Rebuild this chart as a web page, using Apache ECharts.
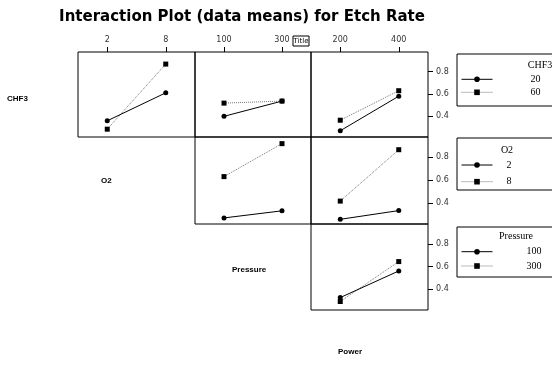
<!DOCTYPE html>
<html>
<head>
<meta charset="utf-8">
<script src="https://cdn.jsdelivr.net/npm/echarts@6/dist/echarts.min.js"></script>
<style>
html,body{margin:0;padding:0;background:#fff;}
#c{width:552px;height:365px;}
</style>
</head>
<body>
<div id="c"></div>
<script>
// ---- data ----
const titleText = 'Interaction Plot (data means) for Etch Rate';
const rowFactors = ['CHF3', 'O2', 'Pressure'];
const colFactors = ['O2', 'Pressure', 'Power'];
const chf3Levels = ['20', '60'];
const o2Levels = ['2', '8'];
const pressureLevels = ['100', '300'];
const o2X = [2, 8];
const pressureX = [100, 300];
const powerX = [200, 400];
const yTicks = [0.4, 0.6, 0.8];

// means
const chf3_o2_20 = [0.36, 0.61];
const chf3_o2_60 = [0.285, 0.867];
const chf3_pressure_20 = [0.40, 0.536];
const chf3_pressure_60 = [0.518, 0.536];
const chf3_power_20 = [0.271, 0.58];
const chf3_power_60 = [0.365, 0.629];
const o2_pressure_2 = [0.268, 0.33];
const o2_pressure_8 = [0.629, 0.917];
const o2_power_2 = [0.256, 0.332];
const o2_power_8 = [0.415, 0.864];
const pressure_power_100 = [0.325, 0.56];
const pressure_power_300 = [0.29, 0.643];

// ---- layout ----
const colLeft = [78, 195, 311];
const colWidth = [117, 116, 117];
const rowTop = [52, 137, 224];
const rowHeight = [85, 87, 86];
const colX = [o2X, pressureX, powerX];
const colRange = [[-1, 11], [0, 400], [100, 500]];
const yRange = [0.215, 0.975];

// panels: [row, col, levels, valuesA, valuesB]
const panels = [
  [0, 0, chf3Levels, chf3_o2_20, chf3_o2_60],
  [0, 1, chf3Levels, chf3_pressure_20, chf3_pressure_60],
  [0, 2, chf3Levels, chf3_power_20, chf3_power_60],
  [1, 1, o2Levels, o2_pressure_2, o2_pressure_8],
  [1, 2, o2Levels, o2_power_2, o2_power_8],
  [2, 2, pressureLevels, pressure_power_100, pressure_power_300]
];

const tickFont = {fontFamily: 'DejaVu Sans', fontSize: 8, color: '#333'};
const grids = [], xAxes = [], yAxes = [], series = [];
panels.forEach((p, i) => {
  const [r, c, lv, a, b] = p;
  grids.push({left: colLeft[c], top: rowTop[r], width: colWidth[c], height: rowHeight[r],
    show: true, borderColor: '#000', borderWidth: 1, backgroundColor: 'transparent'});
  const topRow = (r === 0);
  xAxes.push({type: 'value', gridIndex: i, position: 'top', min: colRange[c][0], max: colRange[c][1],
    axisLine: {show: false}, splitLine: {show: false},
    axisTick: {show: topRow, length: 5, inside: false, lineStyle: {color: '#000'}, customValues: colX[c]},
    axisLabel: {show: topRow, margin: 8, customValues: colX[c], ...tickFont}});
  const rightCol = (c === 2);
  yAxes.push({type: 'value', gridIndex: i, position: 'right', min: yRange[0], max: yRange[1],
    axisLine: {show: false}, splitLine: {show: false},
    axisTick: {show: rightCol, length: 5, lineStyle: {color: '#000'}, customValues: yTicks},
    axisLabel: {show: rightCol, margin: 8, customValues: yTicks, formatter: v => v.toFixed(1), ...tickFont}});
  series.push({type: 'line', name: lv[0], xAxisIndex: i, yAxisIndex: i,
    data: colX[c].map((x, k) => [x, a[k]]), symbol: 'circle', symbolSize: 5,
    itemStyle: {color: '#000'}, lineStyle: {color: '#000', width: 1, type: 'solid'}, animation: false, z: 3});
  series.push({type: 'line', name: lv[1], xAxisIndex: i, yAxisIndex: i,
    data: colX[c].map((x, k) => [x, b[k]]), symbol: 'rect', symbolSize: 5,
    itemStyle: {color: '#000'}, lineStyle: {color: '#777', width: 1, type: 'dotted'}, animation: false, z: 2});
});

const legendFont = {fontFamily: 'Liberation Serif', fontSize: 10, color: '#000', lineHeight: 10};
function mkLegend(names, top, left, labelW, gap) {
  return {orient: 'vertical', left: left, top: top, data: names, itemWidth: 31, itemHeight: 7,
    itemGap: gap, selectedMode: false, padding: 0,
    lineStyle: {width: 1},
    formatter: n => '{a|' + n + '}',
    textStyle: {lineHeight: 10, rich: {a: {width: labelW, align: 'right', ...legendFont}}}};
}
const legends = [
  mkLegend(chf3Levels, 74.3, 461, 43, 3),
  mkLegend(o2Levels, 160, 461, 14, 6.7),
  mkLegend(pressureLevels, 246.7, 461, 44, 4.3)
];

const sideFont = {fontFamily: 'Liberation Sans', fontSize: 8, fontWeight: 'bold', fill: '#000'};
const serifT = {fontFamily: 'Liberation Serif', fontSize: 10, fill: '#000'};
const graphics = [
  {type: 'text', left: 7, top: 95, style: {text: rowFactors[0], ...sideFont}},
  {type: 'text', left: 101, top: 177, style: {text: rowFactors[1], ...sideFont}},
  {type: 'text', left: 232, top: 266, style: {text: rowFactors[2], ...sideFont}},
  {type: 'text', left: 338, top: 348, style: {text: colFactors[2], ...sideFont}},
  {type: 'rect', shape: {x: 293, y: 36, width: 16, height: 10}, style: {fill: '#fff', stroke: '#000', lineWidth: 1}},
  {type: 'text', x: 301, y: 41, style: {text: 'Title', fontFamily: 'DejaVu Sans', fontSize: 7, fill: '#000', align: 'center', verticalAlign: 'middle'}},
  {type: 'rect', shape: {x: 457, y: 54, width: 100, height: 52}, style: {fill: 'none', stroke: '#000', lineWidth: 1}},
  {type: 'rect', shape: {x: 457, y: 138, width: 100, height: 52}, style: {fill: 'none', stroke: '#000', lineWidth: 1}},
  {type: 'rect', shape: {x: 457, y: 227, width: 100, height: 50}, style: {fill: 'none', stroke: '#000', lineWidth: 1}},
  {type: 'text', x: 540, y: 65, style: {text: rowFactors[0], ...serifT, align: 'center', verticalAlign: 'middle'}},
  {type: 'text', x: 507, y: 150, style: {text: rowFactors[1], ...serifT, align: 'center', verticalAlign: 'middle'}},
  {type: 'text', x: 516, y: 236, style: {text: rowFactors[2], ...serifT, align: 'center', verticalAlign: 'middle'}}
];

const chart = echarts.init(document.getElementById('c'), null, {renderer: 'canvas'});
chart.setOption({
  animation: false,
  backgroundColor: '#fff',
  title: {text: titleText, left: 237, top: 5, textAlign: 'center',
    textStyle: {fontFamily: 'DejaVu Sans', fontWeight: 'bold', fontSize: 15, color: '#000'}},
  grid: grids, xAxis: xAxes, yAxis: yAxes, series: series,
  legend: legends, graphic: graphics
});
</script>
</body>
</html>
